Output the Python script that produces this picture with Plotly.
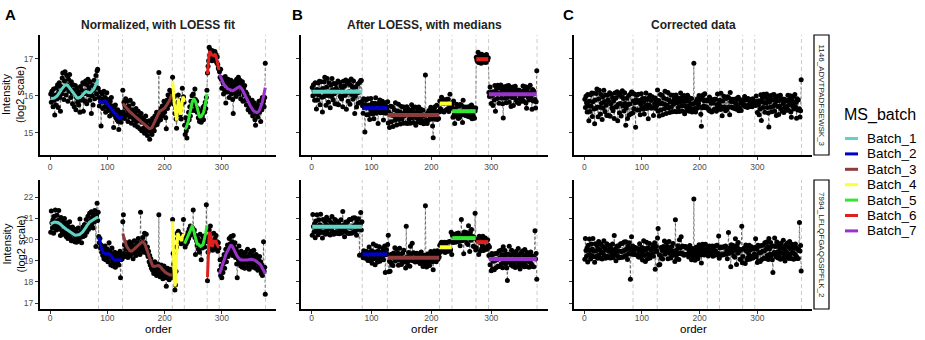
import numpy as np
import plotly.graph_objects as go

# ---------------------------------------------------------------- data
batch_names = ["Batch_1", "Batch_2", "Batch_3", "Batch_4", "Batch_5", "Batch_6", "Batch_7"]
batch_sizes = [84, 42, 87, 21, 40, 21, 81]
batch_colors = ["#5FD4C4", "#0000C8", "#8E3B3B", "#FFFF33", "#33E633", "#E0201E", "#9933CC"]

peptides = ["1146_ADVTPADFSEWSK_3", "7994_LFLQFGAQGSPFLK_2"]

# normalized log2 intensities, in injection order
intensity_1146 = [
    16.05, 15.82, 16.12, 15.95, 15.70, 16.18, 15.88, 15.48, 16.02, 15.75, 16.22, 15.92,
    16.30, 15.68, 16.10, 16.35, 15.95, 15.58, 16.25, 16.05, 16.48, 16.62, 16.15, 15.90,
    16.40, 16.65, 16.20, 16.02, 16.55, 16.30, 15.85, 16.45, 16.12, 16.58, 16.25, 15.95,
    16.38, 16.08, 15.78, 16.30, 16.15, 15.70, 16.05, 16.28, 15.62, 15.95, 16.20, 15.82,
    16.10, 15.75, 16.02, 15.55, 16.25, 15.88, 16.15, 15.92, 16.35, 15.58, 16.05, 16.32,
    15.85, 16.40, 16.12, 15.78, 16.30, 16.45, 16.02, 16.22, 15.88, 16.38, 16.10, 15.52,
    16.00, 16.28, 15.75, 16.15, 16.42, 15.92, 16.25, 16.55, 16.05, 16.68, 16.72, 16.20,
    15.95, 15.72, 16.10, 15.85, 15.18, 15.92, 16.05, 15.65, 15.88, 16.12, 15.70, 15.95,
    15.55, 15.82, 16.08, 15.68, 15.90, 15.60, 15.78, 15.45, 15.85, 15.62, 15.95, 15.50,
    15.72, 15.55, 15.14, 15.68, 15.48, 15.75, 15.40, 15.58, 15.35, 15.62, 15.30, 15.08,
    15.52, 15.38, 15.55, 15.28, 15.48, 15.42,
    16.15, 15.55, 15.82, 15.38, 15.70, 15.92, 15.48, 15.65, 15.85, 15.30, 15.58, 15.72,
    15.42, 15.88, 15.50, 15.25, 15.62, 15.45, 15.78, 15.35, 15.55, 15.20, 15.48, 15.65,
    15.30, 15.42, 15.15, 15.58, 15.32, 15.45, 15.10, 15.38, 15.52, 15.05, 15.28, 15.40,
    15.12, 15.35, 14.98, 15.22, 15.45, 15.08, 15.30, 14.92, 15.18, 15.05, 15.32, 14.82,
    15.15, 15.02, 15.25, 14.95, 15.38, 15.12, 15.28, 15.05, 15.45, 15.20, 15.35, 15.55,
    15.22, 15.48, 15.30, 16.63, 15.42, 15.58, 15.35, 15.65, 15.45, 15.72, 15.50, 15.62,
    15.85, 15.55, 15.78, 15.40, 15.10, 15.88, 15.65, 16.02, 15.75, 15.92, 16.15, 15.80,
    16.05, 15.90, 16.12,
    16.50, 16.02, 15.77, 15.97, 15.52, 15.67, 15.37, 15.12, 15.57, 15.82, 16.02, 15.72,
    15.87, 15.47, 15.62, 15.37, 15.77, 16.20, 15.87, 15.97, 15.82,
    15.20, 14.95, 15.40, 15.05, 14.85, 15.30, 15.15, 15.55, 15.35, 15.70, 15.45, 15.85,
    15.60, 16.00, 15.75, 16.05, 15.82, 15.60, 16.18, 15.90, 15.70, 15.85, 15.55, 15.65,
    15.40, 15.58, 15.30, 15.50, 15.42, 15.28, 15.60, 15.45, 15.68, 15.35, 15.72, 15.55,
    15.82, 15.65, 15.95, 16.15,
    16.62, 16.80, 16.95, 17.32, 17.10, 17.25, 17.02, 17.18, 16.95, 17.22, 17.05, 17.15,
    16.98, 17.20, 17.08, 17.12, 16.90, 17.05, 16.85, 16.75, 16.72,
    16.65, 16.50, 16.72, 16.45, 16.20, 16.48, 16.35, 16.05, 16.40, 16.15, 16.52, 15.80,
    16.28, 16.38, 16.10, 16.45, 16.22, 15.95, 16.35, 16.18, 16.42, 16.05, 16.28, 15.90,
    15.52, 16.20, 16.38, 16.08, 16.30, 15.98, 16.45, 16.15, 16.35, 16.50, 16.05, 16.25,
    16.42, 15.92, 16.30, 16.12, 16.38, 15.85, 16.20, 16.02, 16.28, 15.88, 16.10, 15.75,
    16.05, 15.90, 15.62, 15.95, 15.70, 15.85, 15.55, 15.78, 15.60, 15.88, 15.45, 15.72,
    15.58, 15.80, 15.35, 15.20, 15.65, 15.50, 15.75, 15.42, 15.62, 15.85, 15.55, 15.70,
    15.30, 15.88, 15.62, 15.95, 15.75, 15.85, 15.70, 15.95, 16.88,
]

intensity_7994 = [
    20.35, 21.35, 20.80, 20.55, 20.95, 20.30, 21.10, 20.65, 21.40, 20.85, 20.45, 21.15,
    20.60, 20.90, 21.38, 20.50, 20.75, 20.20, 21.05, 20.68, 20.40, 20.88, 20.25, 20.70,
    21.00, 20.35, 20.55, 20.15, 20.80, 20.42, 20.05, 20.62, 20.28, 20.85, 20.10, 20.45,
    19.95, 20.35, 20.60, 20.00, 20.25, 20.50, 19.90, 20.18, 20.40, 19.88, 20.30, 20.05,
    20.55, 19.92, 20.22, 20.98, 20.10, 20.38, 19.85, 20.28, 20.60, 20.15, 20.45, 20.72,
    20.20, 20.55, 20.95, 20.35, 20.68, 21.10, 20.48, 20.80, 21.25, 20.60, 20.92, 21.32,
    20.70, 21.05, 20.55, 21.20, 20.85, 21.38, 20.95, 19.68, 21.15, 21.72, 20.90, 21.30,
    20.15, 19.85, 20.05, 19.60, 19.75, 19.40, 19.65, 19.25, 19.50, 19.10, 19.38, 19.70,
    19.05, 19.45, 19.20, 19.55, 18.95, 19.35, 19.85, 19.15, 19.45, 18.80, 19.30, 19.60,
    19.00, 18.75, 19.25, 18.90, 19.40, 18.70, 19.10, 18.85, 19.20, 18.95, 19.35, 18.80,
    19.15, 19.45, 18.20, 19.05, 19.30, 19.10,
    20.85, 21.18, 19.35, 19.75, 19.20, 19.55, 19.85, 19.30, 19.60, 19.15, 19.70, 19.45,
    19.90, 19.25, 19.55, 19.80, 19.35, 19.65, 19.10, 19.50, 19.95, 19.40, 19.70, 19.25,
    19.60, 19.85, 19.45, 20.05, 19.55, 19.75, 19.30, 21.30, 19.65, 19.90, 19.50, 20.10,
    19.70, 19.40, 20.30, 19.85, 19.55, 20.25, 19.35, 19.65, 19.20, 19.45, 18.95, 19.25,
    18.80, 19.10, 18.65, 18.90, 18.55, 18.85, 18.40, 18.70, 18.95, 18.50, 18.75, 18.30,
    18.60, 18.85, 18.45, 21.18, 18.65, 18.25, 18.55, 18.80, 18.35, 18.60, 18.15, 18.50,
    18.75, 18.30, 18.55, 18.20, 17.80, 18.45, 18.65, 18.25, 18.50, 18.10, 18.40, 18.60,
    18.20, 18.45, 18.30,
    20.95, 19.35, 18.85, 18.30, 17.62, 17.85, 18.50, 19.65, 20.30, 20.05, 20.40, 20.15,
    19.90, 20.25, 20.00, 19.80, 20.20, 19.95, 20.10, 20.95, 19.85,
    19.95, 19.65, 20.10, 19.80, 20.20, 19.90, 20.35, 20.05, 20.50, 20.20, 20.65, 20.35,
    20.60, 20.25, 20.55, 21.40, 20.30, 20.45, 20.10, 19.30, 20.20, 19.95, 19.75, 20.05,
    19.55, 19.90, 19.40, 20.25, 19.70, 19.05, 19.95, 19.60, 20.15, 19.80, 20.00, 19.65,
    20.20, 19.90, 21.65, 20.10,
    18.05, 19.40, 20.10, 20.45, 19.85, 20.65, 20.25, 19.60, 19.95, 19.50, 19.80, 20.30,
    19.65, 20.05, 19.75, 20.20, 19.55, 19.90, 19.45, 19.85, 19.60,
    18.55, 19.05, 18.30, 18.75, 18.20, 19.10, 18.45, 18.90, 19.30, 18.65, 19.15, 19.55,
    18.95, 19.40, 19.75, 19.20, 19.60, 20.05, 19.35, 19.80, 20.15, 19.50, 19.90, 19.25,
    20.20, 19.65, 19.35, 19.85, 19.15, 19.55, 18.85, 18.20, 19.40, 19.05, 19.70, 18.90,
    19.25, 18.75, 19.45, 19.00, 18.70, 19.30, 18.85, 19.15, 18.65, 19.40, 18.95, 19.20,
    18.70, 19.55, 18.90, 19.15, 18.60, 19.35, 19.05, 18.80, 19.45, 18.95, 19.25, 18.70,
    19.50, 18.85, 19.10, 18.65, 19.30, 18.90, 19.15, 18.55, 19.05, 18.75, 19.20, 18.60,
    18.95, 18.40, 18.80, 18.30, 18.65, 19.90, 18.50, 18.70, 17.42,
]

x_ticks = [0, 100, 200, 300]
y_ticks = [[15, 16, 17], [17, 18, 19, 20, 21, 22]]
y_ranges = [[14.39, 17.65], [16.72, 22.82]]
panel_titles = ["Normalized, with LOESS fit", "After LOESS, with medians", "Corrected data"]
panel_tags = ["A", "B", "C"]
loess_span = 0.45


# ---------------------------------------------------------------- processing
def loess(x, y, span, degree=2):
    """Local polynomial regression with tricube weights (R loess style)."""
    n = len(x)
    q = max(int(np.floor(n * span)), degree + 2)
    out = np.empty(n)
    for i, x0 in enumerate(x):
        d = np.abs(x - x0)
        h = np.sort(d)[min(q, n) - 1] * 1.0001
        w = np.clip(1 - (d / h) ** 3, 0, None) ** 3
        X = np.vander(x - x0, degree + 1)
        sw = np.sqrt(w)
        beta = np.linalg.lstsq(X * sw[:, None], y * sw, rcond=None)[0]
        out[i] = beta[-1]
    return out


n_total = sum(batch_sizes)
order = np.arange(1, n_total + 1, dtype=float)
starts = np.concatenate([[0], np.cumsum(batch_sizes)[:-1]])
ends = np.cumsum(batch_sizes)
tipping_points = ends + 0.5


def process(values):
    y = np.asarray(values, dtype=float)
    fit = np.empty_like(y)
    adjusted = np.empty_like(y)
    for s, e in zip(starts, ends):
        fit[s:e] = loess(order[s:e], y[s:e], loess_span)
        adjusted[s:e] = y[s:e] - fit[s:e] + fit[s:e].mean()
    medians = np.array([np.median(adjusted[s:e]) for s, e in zip(starts, ends)])
    overall = np.median(adjusted)
    corrected = adjusted.copy()
    for (s, e), m in zip(zip(starts, ends), medians):
        corrected[s:e] = adjusted[s:e] - m + overall
    return y, fit, adjusted, medians, corrected


results = [process(intensity_1146), process(intensity_7994)]

# ---------------------------------------------------------------- layout geometry (px)
W, H = 925, 340
col_px = [(40, 276), (301, 548), (574, 812)]
row_px = [(35, 155), (180, 309)]


def fx(px):
    return px / W


def fy(py):
    return 1 - py / H


FONT = "Liberation Sans, Arial, sans-serif"
fig = go.Figure()
shapes = []
annotations = []
layout_axes = {}

for r in range(2):
    raw, fit, adjusted, medians, corrected = results[r]
    panel_series = [raw, adjusted, corrected]
    for c in range(3):
        k = r * 3 + c + 1
        xa = "x" if k == 1 else f"x{k}"
        ya = "y" if k == 1 else f"y{k}"

        # batch boundaries
        for t in tipping_points:
            shapes.append(dict(type="line", xref=xa, yref=f"{ya} domain", x0=t, x1=t, y0=0, y1=1,
                               line=dict(color="#CCCCCC", width=1, dash="4px,3px"), layer="below"))

        # samples joined in injection order
        fig.add_trace(go.Scatter(
            x=order, y=panel_series[c], mode="lines+markers", xaxis=xa, yaxis=ya,
            line=dict(color="rgba(30,30,30,0.75)", width=0.7, dash="3px,2px"),
            marker=dict(color="black", size=5),
            showlegend=False, hoverinfo="skip"))

        for b, (s, e) in enumerate(zip(starts, ends)):
            if c == 0:
                fig.add_trace(go.Scatter(
                    x=order[s:e], y=fit[s:e], mode="lines", xaxis=xa, yaxis=ya,
                    line=dict(color=batch_colors[b], width=3),
                    showlegend=False, hoverinfo="skip"))
            elif c == 1:
                fig.add_trace(go.Scatter(
                    x=[order[s], order[e - 1]], y=[medians[b], medians[b]], mode="lines",
                    xaxis=xa, yaxis=ya, line=dict(color=batch_colors[b], width=4),
                    showlegend=False, hoverinfo="skip"))

        x0, x1 = col_px[c]
        y0, y1 = row_px[r]
        common = dict(showgrid=False, zeroline=False, showline=True, linecolor="black", linewidth=2,
                      ticks="outside", ticklen=3, tickwidth=1, tickcolor="#333333",
                      tickfont=dict(family=FONT, size=8.5, color="#4D4D4D"))
        layout_axes["xaxis" if k == 1 else f"xaxis{k}"] = dict(
            domain=[fx(x0), fx(x1)], range=[-17.75, 394.75], tickvals=x_ticks,
            anchor=ya, ticklabelstandoff=(-3 if r == 1 else 0), **common)
        layout_axes["yaxis" if k == 1 else f"yaxis{k}"] = dict(
            domain=[fy(y1), fy(y0)], range=y_ranges[r], tickvals=y_ticks[r],
            showticklabels=(c == 0), anchor=xa, **common)

    # facet strip on the right
    y0, y1 = row_px[r]
    shapes.append(dict(type="rect", xref="paper", yref="paper", x0=fx(814), x1=fx(829),
                       y0=fy(y1), y1=fy(y0), line=dict(color="black", width=1.2), fillcolor="white"))
    annotations.append(dict(text=peptides[r], x=fx(821.5), y=fy((y0 + y1) / 2), xref="paper", yref="paper",
                            showarrow=False, textangle=90, font=dict(family=FONT, size=8, color="#1A1A1A"),
                            xanchor="center", yanchor="middle"))
    # y-axis title
    annotations.append(dict(text="Intensity<br>(log2 scale)", x=fx(13), y=fy((y0 + y1) / 2),
                            xref="paper", yref="paper", showarrow=False, textangle=-90,
                            font=dict(family=FONT, size=11, color="black"),
                            xanchor="center", yanchor="middle"))

# panel tags, titles and x-axis titles
tag_px = [3, 290, 561]
for c in range(3):
    x0, x1 = col_px[c]
    annotations.append(dict(text=f"<b>{panel_tags[c]}</b>", x=fx(tag_px[c]), y=fy(15), xref="paper", yref="paper",
                            showarrow=False, xanchor="left", yanchor="middle",
                            font=dict(family=FONT, size=15, color="black")))
    annotations.append(dict(text=f"<b>{panel_titles[c]}</b>", x=fx((x0 + x1) / 2), y=fy(25),
                            xref="paper", yref="paper", showarrow=False, xanchor="center", yanchor="middle",
                            font=dict(family=FONT, size=12, color="#222222")))
    annotations.append(dict(text="order", x=fx((x0 + x1) / 2), y=fy(329), xref="paper", yref="paper",
                            showarrow=False, xanchor="center", yanchor="middle",
                            font=dict(family=FONT, size=11.5, color="black")))

# legend
annotations.append(dict(text="MS_batch", x=fx(842), y=fy(115), xref="paper", yref="paper", showarrow=False,
                        xanchor="left", yanchor="middle", font=dict(family=FONT, size=16, color="black")))
for b, name in enumerate(batch_names):
    yc = 138.5 + b * 15.4
    shapes.append(dict(type="line", xref="paper", yref="paper", x0=fx(845), x1=fx(858), y0=fy(yc), y1=fy(yc),
                       line=dict(color=batch_colors[b], width=3)))
    annotations.append(dict(text=name, x=fx(865), y=fy(yc), xref="paper", yref="paper", showarrow=False,
                            xanchor="left", yanchor="middle", font=dict(family=FONT, size=13.5, color="black")))

fig.update_layout(
    width=W, height=H, margin=dict(l=0, r=0, t=0, b=0),
    paper_bgcolor="white", plot_bgcolor="white",
    shapes=shapes, annotations=annotations, showlegend=False,
    font=dict(family=FONT),
    **layout_axes,
)

fig.write_html("out.html")
